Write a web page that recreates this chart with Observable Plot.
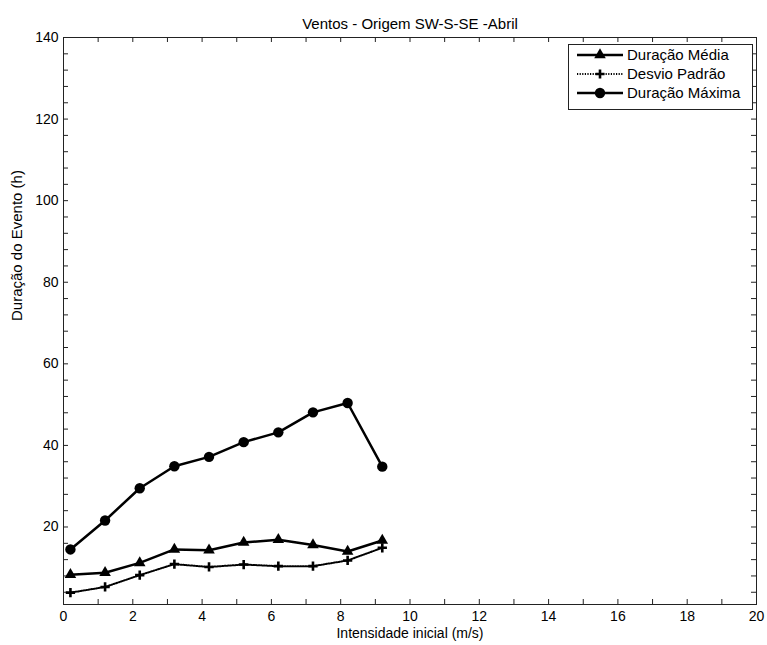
<!DOCTYPE html>
<html><head><meta charset="utf-8">
<script src="https://cdn.jsdelivr.net/npm/d3@7"></script>
<script src="https://cdn.jsdelivr.net/npm/@observablehq/plot@0.6"></script>
<style>body{margin:0;background:#fff;}</style>
</head><body><div id="chart"></div>
<script>
const intensidade = [0.2, 1.2, 2.2, 3.2, 4.2, 5.2, 6.2, 7.2, 8.2, 9.2];
const duracaoMedia = [8.3, 8.8, 11.2, 14.5, 14.3, 16.2, 16.9, 15.6, 14.0, 16.7];
const desvioPadrao = [3.9, 5.3, 8.2, 10.9, 10.2, 10.8, 10.4, 10.4, 11.8, 14.9];
const duracaoMaxima = [14.5, 21.6, 29.5, 34.9, 37.2, 40.8, 43.2, 48.1, 50.4, 34.8];
const xTicks = [0, 2, 4, 6, 8, 10, 12, 14, 16, 18, 20];
const yTicks = [20, 40, 60, 80, 100, 120, 140];
const xMinor = d3.range(0, 21, 1);
const yMinor = d3.range(4, 141, 4);
const title = "Ventos - Origem SW-S-SE -Abril";
const xLabel = "Intensidade inicial (m/s)";
const yLabel = "Duração do Evento (h)";
const seriesNames = ["Duração Média", "Desvio Padrão", "Duração Máxima"];

const W = 767, H = 645, mL = 63, mR = 11, mT = 37, mB = 41;
const xDomain = [0, 20], yDomain = [1, 140];
const tickPx = 5;
const dxTick = tickPx * (xDomain[1] - xDomain[0]) / (W - mL - mR);
const dyTick = tickPx * (yDomain[1] - yDomain[0]) / (H - mT - mB);
const rows = vals => intensidade.map((x, i) => ({x, y: vals[i]}));
const font = "'Liberation Sans', Arial, Helvetica, sans-serif";
const axisColor = "#222";

const plot = Plot.plot({
  width: W, height: H,
  marginLeft: mL, marginRight: mR, marginTop: mT, marginBottom: mB,
  style: {fontFamily: font, fontSize: "14px", color: "#000", background: "#fff"},
  x: {domain: xDomain, label: null},
  y: {domain: yDomain, label: null},
  marks: [
    Plot.ruleX(xMinor, {x: d => d, y1: yDomain[0], y2: yDomain[0] + dyTick, stroke: axisColor}),
    Plot.ruleX(xMinor, {x: d => d, y1: yDomain[1] - dyTick, y2: yDomain[1], stroke: axisColor}),
    Plot.ruleY(yMinor, {y: d => d, x1: xDomain[0], x2: xDomain[0] + dxTick, stroke: axisColor}),
    Plot.ruleY(yMinor, {y: d => d, x1: xDomain[1] - dxTick, x2: xDomain[1], stroke: axisColor}),
    Plot.frame({stroke: axisColor}),
    Plot.axisX({ticks: xTicks, tickSize: 0, tickPadding: 7, label: null, tickFormat: d => String(d)}),
    Plot.axisY({ticks: yTicks, tickSize: 0, tickPadding: 5, label: null, tickFormat: d => String(d)}),
    Plot.line(rows(desvioPadrao), {x: "x", y: "y", stroke: "#000", strokeWidth: 2, strokeDasharray: "1.2,1.4"}),
    Plot.line(rows(duracaoMedia), {x: "x", y: "y", stroke: "#000", strokeWidth: 2.5}),
    Plot.line(rows(duracaoMaxima), {x: "x", y: "y", stroke: "#000", strokeWidth: 2.5}),
    Plot.dot(rows(desvioPadrao), {x: "x", y: "y", symbol: "plus", r: 3.1, stroke: "#000", strokeWidth: 2.6, fill: "none"}),
    Plot.dot(rows(duracaoMedia), {x: "x", y: "y", symbol: "triangle", r: 4.3, fill: "#000", stroke: "none"}),
    Plot.dot(rows(duracaoMaxima), {x: "x", y: "y", symbol: "circle", r: 5.2, fill: "#000", stroke: "none"}),
    Plot.text([title], {text: d => d, frameAnchor: "top", dy: -19, fontSize: 15}),
    Plot.text([xLabel], {text: d => d, frameAnchor: "bottom", dy: 33, fontSize: 14}),
    Plot.text([yLabel], {text: d => d, frameAnchor: "left", dx: -46, rotate: -90, fontSize: 15})
  ]
});
document.getElementById("chart").appendChild(plot);

// Legend
const svg = d3.select(plot);
const lg = svg.append("g").style("font-family", font).style("font-size", "15px").attr("text-anchor", "start");
lg.append("rect").attr("x", 568.5).attr("y", 44.5).attr("width", 184).attr("height", 65)
  .attr("fill", "#fff").attr("stroke", "#222");
const rowY = [55, 74, 93];
const styles = [
  {dash: null, w: 2.5, sym: d3.symbolTriangle, r: 4.3, fill: true},
  {dash: "1.2,1.4", w: 2, sym: null, r: 0, fill: false},
  {dash: null, w: 2.5, sym: d3.symbolCircle, r: 5.2, fill: true}
];
seriesNames.forEach((name, i) => {
  const s = styles[i], y = rowY[i];
  const g = lg.append("g");
  g.append("line").attr("x1", 577).attr("x2", 623).attr("y1", y).attr("y2", y)
    .attr("stroke", "#000").attr("stroke-width", s.w).attr("stroke-dasharray", s.dash);
  if (s.fill) {
    g.append("path").attr("transform", `translate(600,${y})`)
      .attr("d", d3.symbol(s.sym, Math.PI * s.r * s.r)()).attr("fill", "#000");
  } else {
    g.append("path").attr("d", `M595.5,${y}H604.5M600,${y - 4.5}V${y + 4.5}`)
      .attr("stroke", "#000").attr("stroke-width", 2.6).attr("fill", "none");
  }
  g.append("text").attr("x", 627).attr("y", y).attr("dy", "0.35em")
    .attr("text-anchor", "start").attr("fill", "#000").text(name);
});
</script>
</body></html>
